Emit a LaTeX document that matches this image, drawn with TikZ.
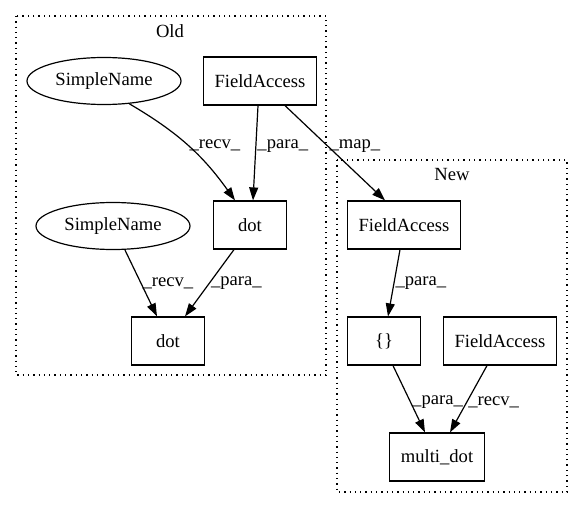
\documentclass[tikz,border=0pt]{standalone}
\usepackage{fontspec}
\setmainfont{Liberation Serif}
\usetikzlibrary{arrows.meta,shapes.geometric}

\begin{document}
\begin{tikzpicture}[x=1pt,y=-1pt,
    font=\fontsize{18.6}{21}\selectfont,
    box/.style={draw,line width=1.2pt,minimum width=73pt,minimum height=48pt,inner xsep=11pt},
    oval/.style={draw,ellipse,line width=1.2pt,minimum width=154pt,minimum height=47pt,inner sep=0pt},
    cluster/.style={line width=1.2pt,dash pattern=on 1.3pt off 4pt},
    link/.style={line width=1.2pt,-{Triangle[length=13pt,width=9pt]}},
    lbl/.style={right,inner sep=1pt}]
    \useasboundingbox (0,0) rectangle (583,508);
    \draw[cluster] (16,16) rectangle (326,375);
    \draw[cluster] (337,160) rectangle (567,492);
    \node (oldtitle) at (170,31) {Old};
    \node (newtitle) at (452,174) {New};
    \node[oval] (name1) at (104,81) {SimpleName};
    \node[box] (field1) at (260,81) {FieldAccess};
    \node[box] (dot1) at (250,225) {dot};
    \node[oval] (name2) at (113,226) {SimpleName};
    \node[box] (dot2) at (168,341) {dot};
    \node[box] (field2) at (404,225) {FieldAccess};
    \node[box] (braces) at (384,341) {\{\}};
    \node[box] (field3) at (500,341) {FieldAccess};
    \node[box] (multidot) at (437,457) {multi\_dot};
    \draw[link] (name1.-42) to[bend left=12] node[lbl,pos=0.5] {\_recv\_} ([xshift=-15pt]dot1.north);
    \draw[link] ([xshift=-2pt]field1.south) -- node[lbl,pos=0.43] {\_para\_} ([xshift=3pt]dot1.north);
    \draw[link] ([xshift=25pt]field1.south) -- node[lbl,pos=0.43] {\_map\_} ([xshift=-19pt]field2.north);
    \draw[link] ([xshift=12pt]name2.south) -- node[lbl,pos=0.5] {\_recv\_} ([xshift=-11pt]dot2.north);
    \draw[link] ([xshift=-16pt]dot1.south) -- node[lbl,pos=0.5] {\_para\_} ([xshift=17pt]dot2.north);
    \draw[link] ([xshift=-4pt]field2.south) -- node[lbl,pos=0.5] {\_para\_} ([xshift=4pt]braces.north);
    \draw[link] ([xshift=9pt]braces.south) -- node[lbl,pos=0.55] {\_para\_} ([xshift=-12pt]multidot.north);
    \draw[link] ([xshift=-13pt]field3.south) -- node[lbl,pos=0.55] {\_recv\_} ([xshift=13pt]multidot.north);
\end{tikzpicture}
\end{document}
